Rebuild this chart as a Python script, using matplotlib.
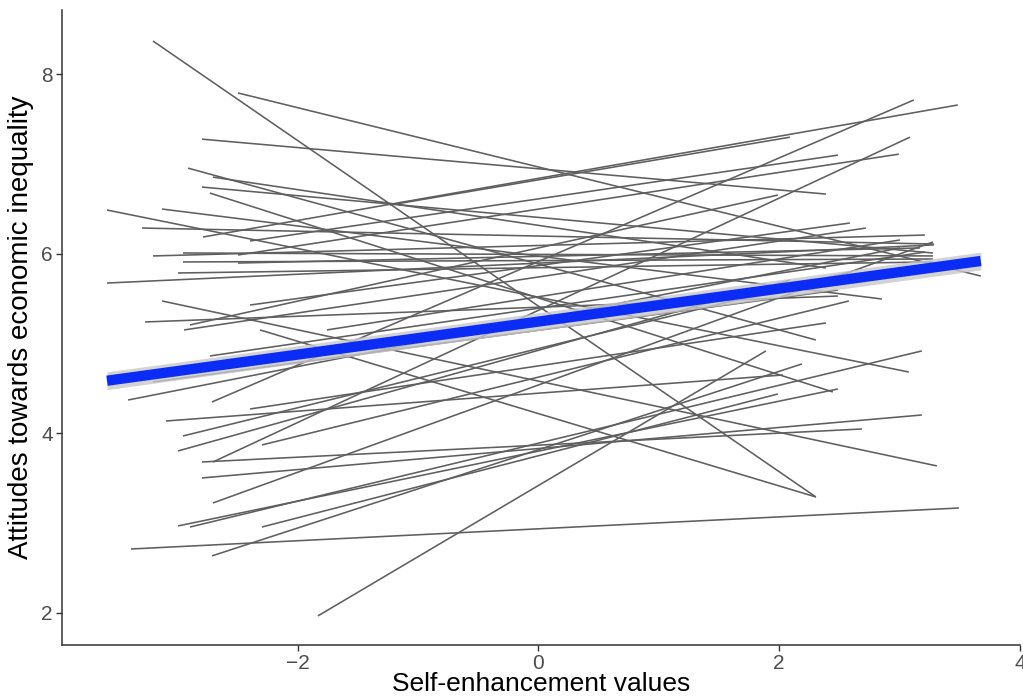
import matplotlib
matplotlib.use("Agg")
import matplotlib.pyplot as plt
import numpy as np

plt.rcParams['font.family'] = ['Liberation Sans', 'DejaVu Sans']

# individual regression segments: start x/y and end x/y
x_start = [-3.202, -2.496, -2.795, -2.911, -2.704, -2.795, -2.729, -3.584, -3.127, -3.293,
           -2.787, -2.396, -3.202, -2.953, -2.496, -2.953, -2.496, -3.584, -2.994, -1.233,
           -3.127, -2.313, -2.396, -3.268, -2.895, -2.944, -1.757, -3.202, -2.729, -3.409,
           -2.712, -2.396, -3.094, -2.953, -2.994, -2.795, -2.704, -2.795, -2.297, -2.704,
           -2.994, -2.895, -2.297, -3.385, -2.712, -1.832]
y_start = [8.373, 7.794, 7.279, 6.956, 6.856, 6.745, 6.678, 6.489, 6.500, 6.288,
           6.188, 6.144, 5.977, 6.010, 5.988, 5.910, 5.898, 5.675, 5.787, 6.545,
           5.475, 5.152, 5.430, 5.241, 5.208, 5.152, 5.152, 4.572, 4.862, 4.371,
           4.349, 4.271, 4.137, 3.970, 3.803, 3.680, 3.680, 3.502, 3.870, 3.223,
           2.967, 2.955, 2.955, 2.710, 2.633, 1.964]
x_end = [2.305, 3.675, 2.388, 2.305, 2.388, 3.277, 2.446, 3.077, 2.853, 3.285,
         3.484, 2.488, 3.210, 3.277, 2.994, 3.277, 3.169, 3.285, 3.277, 2.089,
         3.310, 2.305, 2.587, 2.488, 1.989, 2.720, 3.003, 2.488, 3.210, 3.003,
         3.119, 2.388, 2.031, 2.587, 2.089, 2.687, 3.086, 3.185, 2.579, 3.277,
         2.488, 3.185, 1.989, 3.493, 2.189, 1.890]
y_end = [3.290, 5.753, 6.667, 5.040, 5.843, 6.010, 4.461, 4.683, 5.497, 6.110,
         7.660, 7.101, 6.210, 5.977, 7.112, 5.943, 6.066, 6.100, 5.910, 7.301,
         3.636, 3.290, 6.344, 5.530, 6.656, 6.288, 6.155, 5.597, 6.020, 6.066,
         7.716, 5.230, 4.650, 5.798, 5.708, 4.048, 7.301, 4.204, 5.475, 6.133,
         4.494, 4.918, 4.438, 3.167, 4.773, 4.918]

# overall fixed-effect line with its confidence band
fit_x = [-3.584, 3.675]
fit_y = [4.586, 5.921]
fit_se = [0.045, 0.045]

fig = plt.figure(figsize=(10.23, 6.99), dpi=100)
ax = fig.add_axes([0.0606, 0.0773, 0.9364, 0.9084])

for xs, ys, xe, ye in zip(x_start, y_start, x_end, y_end):
    ax.plot([xs, xe], [ys, ye], color='#5f5f5f', lw=1.15, solid_capstyle='butt', zorder=2)

fx = np.array(fit_x)
fy = np.array(fit_y)
fse = np.array(fit_se)
ax.fill_between(fx, fy - fse * 2.2, fy + fse * 2.2, color='#c8c8c8', alpha=0.8, lw=0, zorder=3)
ax.plot(fx, fy, color='#0a2cf5', lw=7.4, solid_capstyle='butt', zorder=4)

ax.set_xlim(-3.958, 4.0)
ax.set_ylim(1.640, 8.719)
ax.set_xticks([-2, 0, 2, 4])
ax.set_xticklabels(['\u22122', '0', '2', '4'])
ax.set_yticks([2, 4, 6, 8])
ax.set_yticklabels(['2', '4', '6', '8'])

for s in ['top', 'right']:
    ax.spines[s].set_visible(False)
for s in ['left', 'bottom']:
    ax.spines[s].set_color('#333333')
    ax.spines[s].set_linewidth(1.1)

ax.tick_params(axis='both', colors='#333333', length=4, width=1.0,
               labelsize=15, labelcolor='#4d4d4d', pad=2.5)

ax.set_xlabel('Self-enhancement values', fontsize=19, color='black', labelpad=-1)
ax.set_ylabel('Attitudes towards economic inequality', fontsize=20, color='black', labelpad=5)

fig.savefig('out.png', dpi=100)
